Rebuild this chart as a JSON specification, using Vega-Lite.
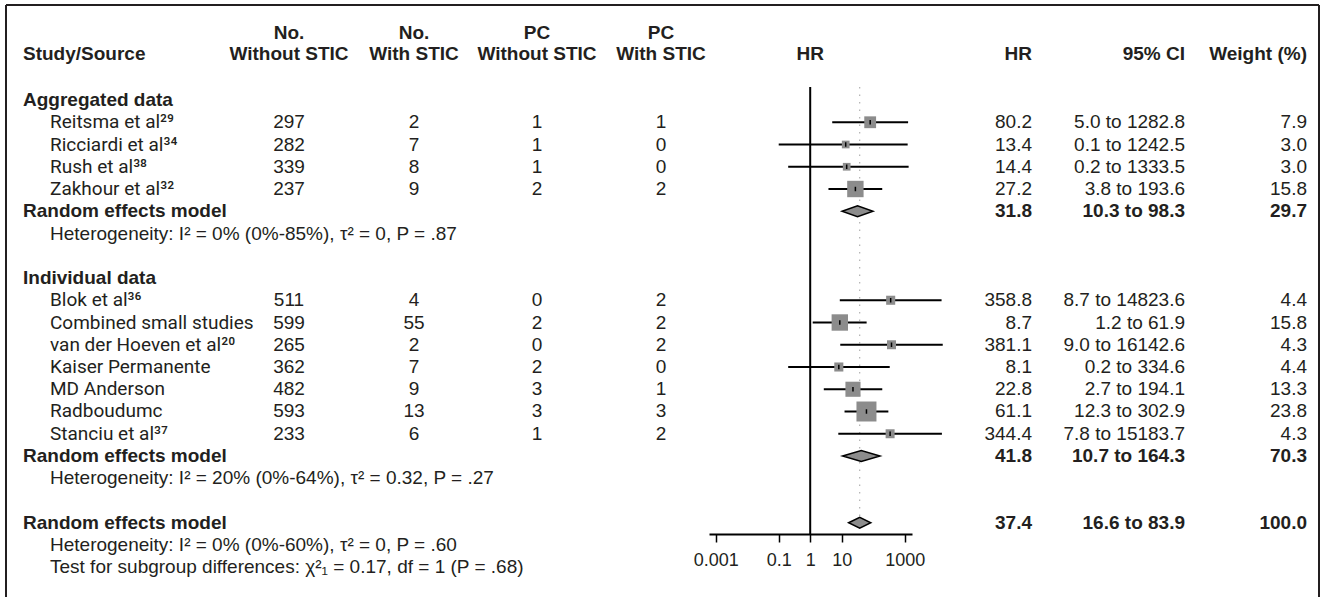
{
  "$schema": "https://vega.github.io/schema/vega-lite/v6.json",
  "padding": {"left": 5, "top": 4, "right": 5, "bottom": 0},
  "autosize": {"type": "pad"},
  "background": "white",
  "spacing": 0,
  "bounds": "flush",
  "config": {"view": {"stroke": null}, "font": "Liberation Sans", "text": {"fontSize": 19, "color": "#231f20"}},
  "datasets": {
    "frame": [{"part": "border"}],
    "headers": [
      {"col": "study", "title": ["", "Study/Source"]},
      {"col": "nwo", "title": ["No.", "Without STIC"]},
      {"col": "nw", "title": ["No.", "With STIC"]},
      {"col": "pcwo", "title": ["PC", "Without STIC"]},
      {"col": "pcw", "title": ["PC", "With STIC"]},
      {"col": "forest", "title": ["", "HR"]},
      {"col": "hr", "title": ["", "HR"]},
      {"col": "ci", "title": ["", "95% CI"]},
      {"col": "w", "title": ["", "Weight (%)"]}
    ],
    "rows": [
      {"row": 0, "kind": "group", "label": "Aggregated data"},
      {"row": 1, "kind": "study", "label": "Reitsma et al²⁹", "nwo": 297, "nw": 2, "pcwo": 1, "pcw": 1, "hr": 80.2, "lo": 5.0, "hi": 1282.8, "ci": "5.0 to 1282.8", "w": 7.9},
      {"row": 2, "kind": "study", "label": "Ricciardi et al³⁴", "nwo": 282, "nw": 7, "pcwo": 1, "pcw": 0, "hr": 13.4, "lo": 0.1, "hi": 1242.5, "ci": "0.1 to 1242.5", "w": 3.0},
      {"row": 3, "kind": "study", "label": "Rush et al³⁸", "nwo": 339, "nw": 8, "pcwo": 1, "pcw": 0, "hr": 14.4, "lo": 0.2, "hi": 1333.5, "ci": "0.2 to 1333.5", "w": 3.0},
      {"row": 4, "kind": "study", "label": "Zakhour et al³²", "nwo": 237, "nw": 9, "pcwo": 2, "pcw": 2, "hr": 27.2, "lo": 3.8, "hi": 193.6, "ci": "3.8 to 193.6", "w": 15.8},
      {"row": 5, "kind": "model", "pooled": "subgroup", "label": "Random effects model", "hr": 31.8, "lo": 10.3, "hi": 98.3, "ci": "10.3 to 98.3", "w": 29.7},
      {"row": 6, "kind": "note", "label": "Heterogeneity: I² = 0% (0%-85%), τ² = 0, P = .87"},
      {"row": 8, "kind": "group", "label": "Individual data"},
      {"row": 9, "kind": "study", "label": "Blok et al³⁶", "nwo": 511, "nw": 4, "pcwo": 0, "pcw": 2, "hr": 358.8, "lo": 8.7, "hi": 14823.6, "ci": "8.7 to 14823.6", "w": 4.4},
      {"row": 10, "kind": "study", "label": "Combined small studies", "nwo": 599, "nw": 55, "pcwo": 2, "pcw": 2, "hr": 8.7, "lo": 1.2, "hi": 61.9, "ci": "1.2 to 61.9", "w": 15.8},
      {"row": 11, "kind": "study", "label": "van der Hoeven et al²⁰", "nwo": 265, "nw": 2, "pcwo": 0, "pcw": 2, "hr": 381.1, "lo": 9.0, "hi": 16142.6, "ci": "9.0 to 16142.6", "w": 4.3},
      {"row": 12, "kind": "study", "label": "Kaiser Permanente", "nwo": 362, "nw": 7, "pcwo": 2, "pcw": 0, "hr": 8.1, "lo": 0.2, "hi": 334.6, "ci": "0.2 to 334.6", "w": 4.4},
      {"row": 13, "kind": "study", "label": "MD Anderson", "nwo": 482, "nw": 9, "pcwo": 3, "pcw": 1, "hr": 22.8, "lo": 2.7, "hi": 194.1, "ci": "2.7 to 194.1", "w": 13.3},
      {"row": 14, "kind": "study", "label": "Radboudumc", "nwo": 593, "nw": 13, "pcwo": 3, "pcw": 3, "hr": 61.1, "lo": 12.3, "hi": 302.9, "ci": "12.3 to 302.9", "w": 23.8},
      {"row": 15, "kind": "study", "label": "Stanciu et al³⁷", "nwo": 233, "nw": 6, "pcwo": 1, "pcw": 2, "hr": 344.4, "lo": 7.8, "hi": 15183.7, "ci": "7.8 to 15183.7", "w": 4.3},
      {"row": 16, "kind": "model", "pooled": "subgroup", "label": "Random effects model", "hr": 41.8, "lo": 10.7, "hi": 164.3, "ci": "10.7 to 164.3", "w": 70.3},
      {"row": 17, "kind": "note", "label": "Heterogeneity: I² = 20% (0%-64%), τ² = 0.32, P = .27"},
      {"row": 19, "kind": "model", "pooled": "overall", "label": "Random effects model", "hr": 37.4, "lo": 16.6, "hi": 83.9, "ci": "16.6 to 83.9", "w": 100.0},
      {"row": 20, "kind": "note", "label": "Heterogeneity: I² = 0% (0%-60%), τ² = 0, P = .60"},
      {"row": 21, "kind": "note", "label": "Test for subgroup differences: χ²₁ = 0.17, df = 1 (P = .68)"}
    ]
  },
  "hconcat": [
    {
      "width": 17, "height": 592,
      "layer": [
        {"data": {"name": "frame"}, "mark": {"type": "rule", "color": "#231f20", "strokeWidth": 2}, "encoding": {"y": {"datum": -4.2697, "type": "quantitative", "scale": {"domain": [-4.2697, 22.3371], "reverse": true, "nice": false, "zero": false}, "axis": null}}},
        {"data": {"name": "frame"}, "mark": {"type": "rule", "color": "#231f20", "strokeWidth": 2}, "encoding": {"x": {"datum": 0, "type": "quantitative", "scale": {"domain": [0, 1], "nice": false, "zero": false}, "axis": null}, "y": {"datum": -4.2697, "type": "quantitative", "axis": null}, "y2": {"datum": 22.3371}}},
        {"data": {"name": "headers"}, "transform": [{"filter": "datum.col == 'study'"}], "mark": {"type": "text", "fontWeight": "bold", "align": "left", "baseline": "middle", "lineHeight": 20.5}, "encoding": {"x": {"datum": 1, "type": "quantitative", "axis": null}, "y": {"datum": -2.998, "type": "quantitative", "axis": null}, "text": {"field": "title", "type": "nominal"}}},
        {"data": {"name": "rows"}, "transform": [{"filter": "datum.kind == 'group' || datum.kind == 'model'"}], "mark": {"type": "text", "fontWeight": "bold", "align": "left", "baseline": "middle"}, "encoding": {"x": {"datum": 1, "type": "quantitative", "axis": null}, "y": {"field": "row", "type": "quantitative", "axis": null}, "text": {"field": "label", "type": "nominal"}}}
      ]
    },
    {
      "width": 27, "height": 592,
      "layer": [
        {"data": {"name": "frame"}, "mark": {"type": "rule", "color": "#231f20", "strokeWidth": 2}, "encoding": {"y": {"datum": -4.2697, "type": "quantitative", "scale": {"domain": [-4.2697, 22.3371], "reverse": true, "nice": false, "zero": false}, "axis": null}}},
        {"data": {"name": "rows"}, "transform": [{"filter": "datum.kind == 'study'"}], "mark": {"type": "text", "align": "left", "baseline": "middle", "font": "Roboto"}, "encoding": {"x": {"datum": 1, "type": "quantitative", "scale": {"domain": [0, 1], "nice": false, "zero": false}, "axis": null}, "y": {"field": "row", "type": "quantitative", "axis": null}, "text": {"field": "label", "type": "nominal"}}},
        {"data": {"name": "rows"}, "transform": [{"filter": "datum.kind == 'note'"}], "mark": {"type": "text", "align": "left", "baseline": "middle"}, "encoding": {"x": {"datum": 1, "type": "quantitative", "axis": null}, "y": {"field": "row", "type": "quantitative", "axis": null}, "text": {"field": "label", "type": "nominal"}}}
      ]
    },
    {
      "width": 239, "height": 592,
      "layer": [
        {"data": {"name": "frame"}, "mark": {"type": "rule", "color": "#231f20", "strokeWidth": 2}, "encoding": {"y": {"datum": -4.2697, "type": "quantitative", "scale": {"domain": [-4.2697, 22.3371], "reverse": true, "nice": false, "zero": false}, "axis": null}}},
        {"data": {"name": "headers"}, "transform": [{"filter": "datum.col == 'nwo'"}], "mark": {"type": "text", "fontWeight": "bold", "align": "center", "baseline": "middle", "lineHeight": 20.5}, "encoding": {"x": {"datum": 1, "type": "quantitative", "scale": {"domain": [0, 1], "nice": false, "zero": false}, "axis": null}, "y": {"datum": -2.998, "type": "quantitative", "axis": null}, "text": {"field": "title", "type": "nominal"}}},
        {"data": {"name": "rows"}, "transform": [{"filter": "isValid(datum.nwo)"}], "mark": {"type": "text", "align": "center", "baseline": "middle"}, "encoding": {"x": {"datum": 1, "type": "quantitative", "axis": null}, "y": {"field": "row", "type": "quantitative", "axis": null}, "text": {"field": "nwo", "type": "nominal"}}}
      ]
    },
    {
      "width": 125, "height": 592,
      "layer": [
        {"data": {"name": "frame"}, "mark": {"type": "rule", "color": "#231f20", "strokeWidth": 2}, "encoding": {"y": {"datum": -4.2697, "type": "quantitative", "scale": {"domain": [-4.2697, 22.3371], "reverse": true, "nice": false, "zero": false}, "axis": null}}},
        {"data": {"name": "headers"}, "transform": [{"filter": "datum.col == 'nw'"}], "mark": {"type": "text", "fontWeight": "bold", "align": "center", "baseline": "middle", "lineHeight": 20.5}, "encoding": {"x": {"datum": 1, "type": "quantitative", "scale": {"domain": [0, 1], "nice": false, "zero": false}, "axis": null}, "y": {"datum": -2.998, "type": "quantitative", "axis": null}, "text": {"field": "title", "type": "nominal"}}},
        {"data": {"name": "rows"}, "transform": [{"filter": "isValid(datum.nw)"}], "mark": {"type": "text", "align": "center", "baseline": "middle"}, "encoding": {"x": {"datum": 1, "type": "quantitative", "axis": null}, "y": {"field": "row", "type": "quantitative", "axis": null}, "text": {"field": "nw", "type": "nominal"}}}
      ]
    },
    {
      "width": 123, "height": 592,
      "layer": [
        {"data": {"name": "frame"}, "mark": {"type": "rule", "color": "#231f20", "strokeWidth": 2}, "encoding": {"y": {"datum": -4.2697, "type": "quantitative", "scale": {"domain": [-4.2697, 22.3371], "reverse": true, "nice": false, "zero": false}, "axis": null}}},
        {"data": {"name": "headers"}, "transform": [{"filter": "datum.col == 'pcwo'"}], "mark": {"type": "text", "fontWeight": "bold", "align": "center", "baseline": "middle", "lineHeight": 20.5}, "encoding": {"x": {"datum": 1, "type": "quantitative", "scale": {"domain": [0, 1], "nice": false, "zero": false}, "axis": null}, "y": {"datum": -2.998, "type": "quantitative", "axis": null}, "text": {"field": "title", "type": "nominal"}}},
        {"data": {"name": "rows"}, "transform": [{"filter": "isValid(datum.pcwo)"}], "mark": {"type": "text", "align": "center", "baseline": "middle"}, "encoding": {"x": {"datum": 1, "type": "quantitative", "axis": null}, "y": {"field": "row", "type": "quantitative", "axis": null}, "text": {"field": "pcwo", "type": "nominal"}}}
      ]
    },
    {
      "width": 124, "height": 592,
      "layer": [
        {"data": {"name": "frame"}, "mark": {"type": "rule", "color": "#231f20", "strokeWidth": 2}, "encoding": {"y": {"datum": -4.2697, "type": "quantitative", "scale": {"domain": [-4.2697, 22.3371], "reverse": true, "nice": false, "zero": false}, "axis": null}}},
        {"data": {"name": "headers"}, "transform": [{"filter": "datum.col == 'pcw'"}], "mark": {"type": "text", "fontWeight": "bold", "align": "center", "baseline": "middle", "lineHeight": 20.5}, "encoding": {"x": {"datum": 1, "type": "quantitative", "scale": {"domain": [0, 1], "nice": false, "zero": false}, "axis": null}, "y": {"datum": -2.998, "type": "quantitative", "axis": null}, "text": {"field": "title", "type": "nominal"}}},
        {"data": {"name": "rows"}, "transform": [{"filter": "isValid(datum.pcw)"}], "mark": {"type": "text", "align": "center", "baseline": "middle"}, "encoding": {"x": {"datum": 1, "type": "quantitative", "axis": null}, "y": {"field": "row", "type": "quantitative", "axis": null}, "text": {"field": "pcw", "type": "nominal"}}}
      ]
    },
    {
      "width": 48, "height": 592,
      "layer": [
        {"data": {"name": "frame"}, "mark": {"type": "rule", "color": "#231f20", "strokeWidth": 2}, "encoding": {"y": {"datum": -4.2697, "type": "quantitative", "scale": {"domain": [-4.2697, 22.3371], "reverse": true, "nice": false, "zero": false}, "axis": null}}}
      ]
    },
    {
      "width": 203, "height": 529,
      "layer": [
        {"data": {"name": "frame"}, "mark": {"type": "rule", "color": "#231f20", "strokeWidth": 2}, "encoding": {"y": {"datum": -4.2697, "type": "quantitative", "scale": {"domain": [-4.2697, 19.5056], "reverse": true, "nice": false, "zero": false}, "axis": null}}},
        {"data": {"name": "headers"}, "transform": [{"filter": "datum.col == 'forest'"}], "mark": {"type": "text", "fontWeight": "bold", "align": "center", "baseline": "middle", "lineHeight": 20.5}, "encoding": {"x": {"datum": 1, "type": "quantitative", "scale": {"type": "log", "domain": [0.000612, 1706], "nice": false}, "axis": {"values": [0.001, 0.1, 1, 10, 1000], "format": "~g", "title": null, "grid": false, "domainColor": "#000", "domainWidth": 2, "tickColor": "#000", "tickWidth": 1.5, "tickSize": 8, "labelFontSize": 18, "labelColor": "#231f20", "labelPadding": 9, "labelFont": "Liberation Sans", "labelFlush": false, "labelOverlap": false}}, "y": {"datum": -2.998, "type": "quantitative", "axis": null}, "text": {"field": "title", "type": "nominal"}}},
        {"data": {"name": "frame"}, "mark": {"type": "rule", "color": "#000", "strokeWidth": 2}, "encoding": {"x": {"datum": 1, "type": "quantitative"}, "y": {"datum": -0.584, "type": "quantitative", "axis": null}, "y2": {"datum": 19.5056}}},
        {"data": {"name": "rows"}, "transform": [{"filter": "datum.pooled == 'overall'"}], "mark": {"type": "rule", "color": "#a0a0a0", "strokeWidth": 1, "strokeDash": [1.5, 6]}, "encoding": {"x": {"field": "hr", "type": "quantitative"}, "y": {"datum": -0.584, "type": "quantitative", "axis": null}, "y2": {"datum": 18.79}}},
        {"data": {"name": "rows"}, "transform": [{"filter": "datum.kind == 'study'"}], "mark": {"type": "rule", "color": "#000", "strokeWidth": 2}, "encoding": {"x": {"field": "lo", "type": "quantitative"}, "x2": {"field": "hi"}, "y": {"field": "row", "type": "quantitative", "axis": null}}},
        {"data": {"name": "rows"}, "transform": [{"filter": "datum.kind == 'study'"}], "mark": {"type": "point", "shape": "square", "filled": true, "color": "#8c8c8c", "opacity": 1, "strokeWidth": 0}, "encoding": {"x": {"field": "hr", "type": "quantitative"}, "y": {"field": "row", "type": "quantitative", "axis": null}, "size": {"field": "w", "type": "quantitative", "scale": {"domain": [0, 23.8], "range": [10, 400]}, "legend": null}}},
        {"data": {"name": "rows"}, "transform": [{"filter": "datum.kind == 'study'"}], "mark": {"type": "point", "shape": "M0,-1V1", "filled": false, "stroke": "#000", "strokeWidth": 1.5, "opacity": 1, "size": 20}, "encoding": {"x": {"field": "hr", "type": "quantitative"}, "y": {"field": "row", "type": "quantitative", "axis": null}}},
        {"data": {"name": "rows"}, "transform": [{"filter": "datum.kind == 'model'"}, {"fold": ["lo", "hr", "hi"], "as": ["vertex", "v"]}], "mark": {"type": "area", "orient": "vertical", "fill": "#8c8c8c", "fillOpacity": 1, "stroke": "#000", "strokeWidth": 1.5, "yOffset": {"expr": "datum.vertex == 'hr' ? -5.5 : 0"}, "y2Offset": {"expr": "datum.vertex == 'hr' ? 5.5 : 0"}}, "encoding": {"x": {"field": "v", "type": "quantitative"}, "y": {"field": "row", "type": "quantitative", "axis": null}, "y2": {"field": "row"}, "detail": {"field": "row", "type": "nominal"}}}
      ]
    },
    {
      "width": 120, "height": 592,
      "layer": [
        {"data": {"name": "frame"}, "mark": {"type": "rule", "color": "#231f20", "strokeWidth": 2}, "encoding": {"y": {"datum": -4.2697, "type": "quantitative", "scale": {"domain": [-4.2697, 22.3371], "reverse": true, "nice": false, "zero": false}, "axis": null}}},
        {"data": {"name": "headers"}, "transform": [{"filter": "datum.col == 'hr'"}], "mark": {"type": "text", "fontWeight": "bold", "align": "right", "baseline": "middle", "lineHeight": 20.5}, "encoding": {"x": {"datum": 1, "type": "quantitative", "scale": {"domain": [0, 1], "nice": false, "zero": false}, "axis": null}, "y": {"datum": -2.998, "type": "quantitative", "axis": null}, "text": {"field": "title", "type": "nominal"}}},
        {"data": {"name": "rows"}, "transform": [{"filter": "datum.kind == 'study'"}], "mark": {"type": "text", "align": "right", "baseline": "middle"}, "encoding": {"x": {"datum": 1, "type": "quantitative", "axis": null}, "y": {"field": "row", "type": "quantitative", "axis": null}, "text": {"field": "hr", "type": "quantitative", "format": ".1f"}}},
        {"data": {"name": "rows"}, "transform": [{"filter": "datum.kind == 'model'"}], "mark": {"type": "text", "align": "right", "baseline": "middle", "fontWeight": "bold"}, "encoding": {"x": {"datum": 1, "type": "quantitative", "axis": null}, "y": {"field": "row", "type": "quantitative", "axis": null}, "text": {"field": "hr", "type": "quantitative", "format": ".1f"}}}
      ]
    },
    {
      "width": 153, "height": 592,
      "layer": [
        {"data": {"name": "frame"}, "mark": {"type": "rule", "color": "#231f20", "strokeWidth": 2}, "encoding": {"y": {"datum": -4.2697, "type": "quantitative", "scale": {"domain": [-4.2697, 22.3371], "reverse": true, "nice": false, "zero": false}, "axis": null}}},
        {"data": {"name": "headers"}, "transform": [{"filter": "datum.col == 'ci'"}], "mark": {"type": "text", "fontWeight": "bold", "align": "right", "baseline": "middle", "lineHeight": 20.5}, "encoding": {"x": {"datum": 1, "type": "quantitative", "scale": {"domain": [0, 1], "nice": false, "zero": false}, "axis": null}, "y": {"datum": -2.998, "type": "quantitative", "axis": null}, "text": {"field": "title", "type": "nominal"}}},
        {"data": {"name": "rows"}, "transform": [{"filter": "datum.kind == 'study'"}], "mark": {"type": "text", "align": "right", "baseline": "middle"}, "encoding": {"x": {"datum": 1, "type": "quantitative", "axis": null}, "y": {"field": "row", "type": "quantitative", "axis": null}, "text": {"field": "ci", "type": "nominal"}}},
        {"data": {"name": "rows"}, "transform": [{"filter": "datum.kind == 'model'"}], "mark": {"type": "text", "align": "right", "baseline": "middle", "fontWeight": "bold"}, "encoding": {"x": {"datum": 1, "type": "quantitative", "axis": null}, "y": {"field": "row", "type": "quantitative", "axis": null}, "text": {"field": "ci", "type": "nominal"}}}
      ]
    },
    {
      "width": 122, "height": 592,
      "layer": [
        {"data": {"name": "frame"}, "mark": {"type": "rule", "color": "#231f20", "strokeWidth": 2}, "encoding": {"y": {"datum": -4.2697, "type": "quantitative", "scale": {"domain": [-4.2697, 22.3371], "reverse": true, "nice": false, "zero": false}, "axis": null}}},
        {"data": {"name": "headers"}, "transform": [{"filter": "datum.col == 'w'"}], "mark": {"type": "text", "fontWeight": "bold", "align": "right", "baseline": "middle", "lineHeight": 20.5}, "encoding": {"x": {"datum": 1, "type": "quantitative", "scale": {"domain": [0, 1], "nice": false, "zero": false}, "axis": null}, "y": {"datum": -2.998, "type": "quantitative", "axis": null}, "text": {"field": "title", "type": "nominal"}}},
        {"data": {"name": "rows"}, "transform": [{"filter": "datum.kind == 'study'"}], "mark": {"type": "text", "align": "right", "baseline": "middle"}, "encoding": {"x": {"datum": 1, "type": "quantitative", "axis": null}, "y": {"field": "row", "type": "quantitative", "axis": null}, "text": {"field": "w", "type": "quantitative", "format": ".1f"}}},
        {"data": {"name": "rows"}, "transform": [{"filter": "datum.kind == 'model'"}], "mark": {"type": "text", "align": "right", "baseline": "middle", "fontWeight": "bold"}, "encoding": {"x": {"datum": 1, "type": "quantitative", "axis": null}, "y": {"field": "row", "type": "quantitative", "axis": null}, "text": {"field": "w", "type": "quantitative", "format": ".1f"}}}
      ]
    },
    {
      "width": 12, "height": 592,
      "layer": [
        {"data": {"name": "frame"}, "mark": {"type": "rule", "color": "#231f20", "strokeWidth": 2}, "encoding": {"y": {"datum": -4.2697, "type": "quantitative", "scale": {"domain": [-4.2697, 22.3371], "reverse": true, "nice": false, "zero": false}, "axis": null}}},
        {"data": {"name": "frame"}, "mark": {"type": "rule", "color": "#231f20", "strokeWidth": 2}, "encoding": {"x": {"datum": 1, "type": "quantitative", "scale": {"domain": [0, 1], "nice": false, "zero": false}, "axis": null}, "y": {"datum": -4.2697, "type": "quantitative", "axis": null}, "y2": {"datum": 22.3371}}}
      ]
    }
  ]
}
